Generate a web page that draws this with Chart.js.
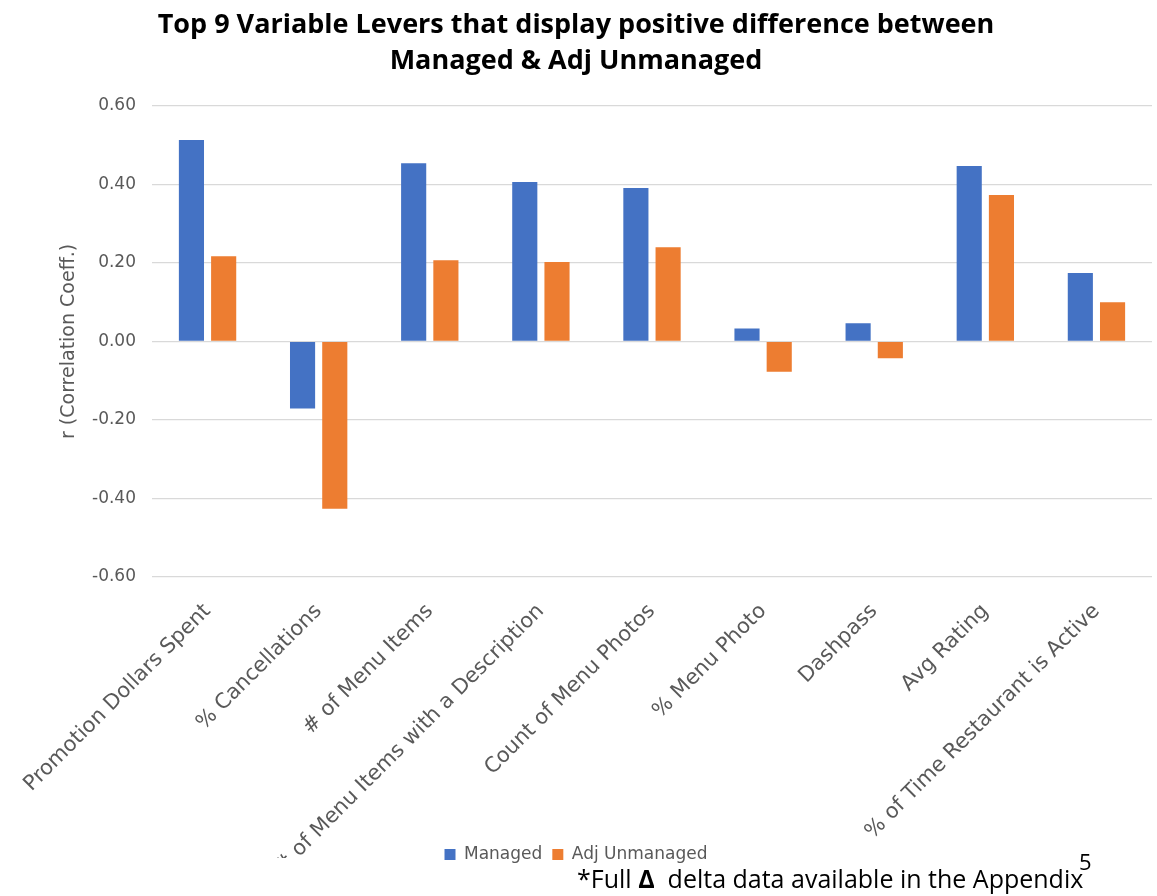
<!DOCTYPE html>
<html>
<head>
<meta charset="utf-8">
<script src="https://cdn.jsdelivr.net/npm/chart.js@4/dist/chart.umd.min.js"></script>
<style>
  html,body{margin:0;padding:0;background:#fff;}
  #wrap{position:relative;width:1157px;height:896px;overflow:hidden;font-family:"Open Sans",sans-serif;}
  #leverChart{position:absolute;left:0;top:0;}
  .page-no{position:absolute;left:1079px;top:846px;font-size:22px;color:#000;}
  .foot{position:absolute;left:577px;top:861px;font-size:25px;color:#000;white-space:nowrap;}
</style>
</head>
<body>
<div id="wrap">
  <canvas id="leverChart" width="1157" height="896"></canvas>
  <div class="page-no">5</div>
  <div class="foot">*Full <b>&Delta;</b>&nbsp; delta data available in the Appendix</div>
</div>
<script>
// ============ LEVER CORRELATIONS ============

const levers = ['Promotion Dollars Spent', '% Cancellations', '# of Menu Items', '# of Menu Items with a Description',
  'Count of Menu Photos', '% Menu Photo', 'Dashpass', 'Avg Rating', '% of Time Restaurant is Active'];
const managed = [0.513, -0.171, 0.454, 0.406, 0.391, 0.033, 0.046, 0.447, 0.174];
const adjUnmanaged = [0.217, -0.426, 0.207, 0.202, 0.240, -0.077, -0.043, 0.373, 0.100];
const yTicks = [-0.6, -0.4, -0.2, 0, 0.2, 0.4, 0.6];

const grey = '#595959';
const fam = '"DejaVu Sans", sans-serif';

new Chart(document.getElementById('leverChart'), {
  type:'bar',
  data:{
    labels:levers,
    datasets:[
      { label:'Managed', data:managed, backgroundColor:'#4472C4', categoryPercentage:0.58, barPercentage:0.78 },
      { label:'Adj Unmanaged', data:adjUnmanaged, backgroundColor:'#ED7D31', categoryPercentage:0.58, barPercentage:0.78 }
    ]
  },
  options:{
    responsive:false, animation:false,
    layout:{ padding:{ left:0, right:5, top:0, bottom:23 } },
    plugins:{
      title:{ display:true, text:['Top 9 Variable Levers that display positive difference between','Managed & Adj Unmanaged'],
        color:'#000', font:{family:'"Open Sans", sans-serif', size:27, weight:'bold', lineHeight:1.33}, padding:{top:7, bottom:27} },
      legend:{ position:'bottom', labels:{ color:grey, font:{family:fam, size:17}, boxWidth:11, boxHeight:11, padding:10 } },
      tooltip:{ enabled:false }
    },
    scales:{
      x:{
        grid:{ display:false }, border:{ display:false },
        ticks:{ color:grey, font:{family:fam, size:21}, minRotation:45, maxRotation:45, autoSkip:false, padding:14 },
        afterFit:s=>{
          s.height = 259;
          // let the long rotated labels run a little past the axis box, under the legend row
          s._computeLabelArea = () => ({ top:s.top, left:0, bottom:s.bottom + 22, right:s.chart.width });
        }
      },
      y:{
        min:-0.6, max:0.6,
        afterBuildTicks:s=>{ s.ticks = yTicks.map(v=>({value:v})); },
        grid:{ color:'#d9d9d9', lineWidth:1.3, drawTicks:false }, border:{ display:false },
        ticks:{ color:grey, font:{family:fam, size:17}, padding:16, callback:v=>Number(v).toFixed(2) },
        title:{ display:true, text:'r (Correlation Coeff.)', color:grey, font:{family:fam, size:19}, padding:{top:58, bottom:0} },
        afterFit:s=>{ s.width = 152; }
      }
    }
  }
});
</script>
</body>
</html>
